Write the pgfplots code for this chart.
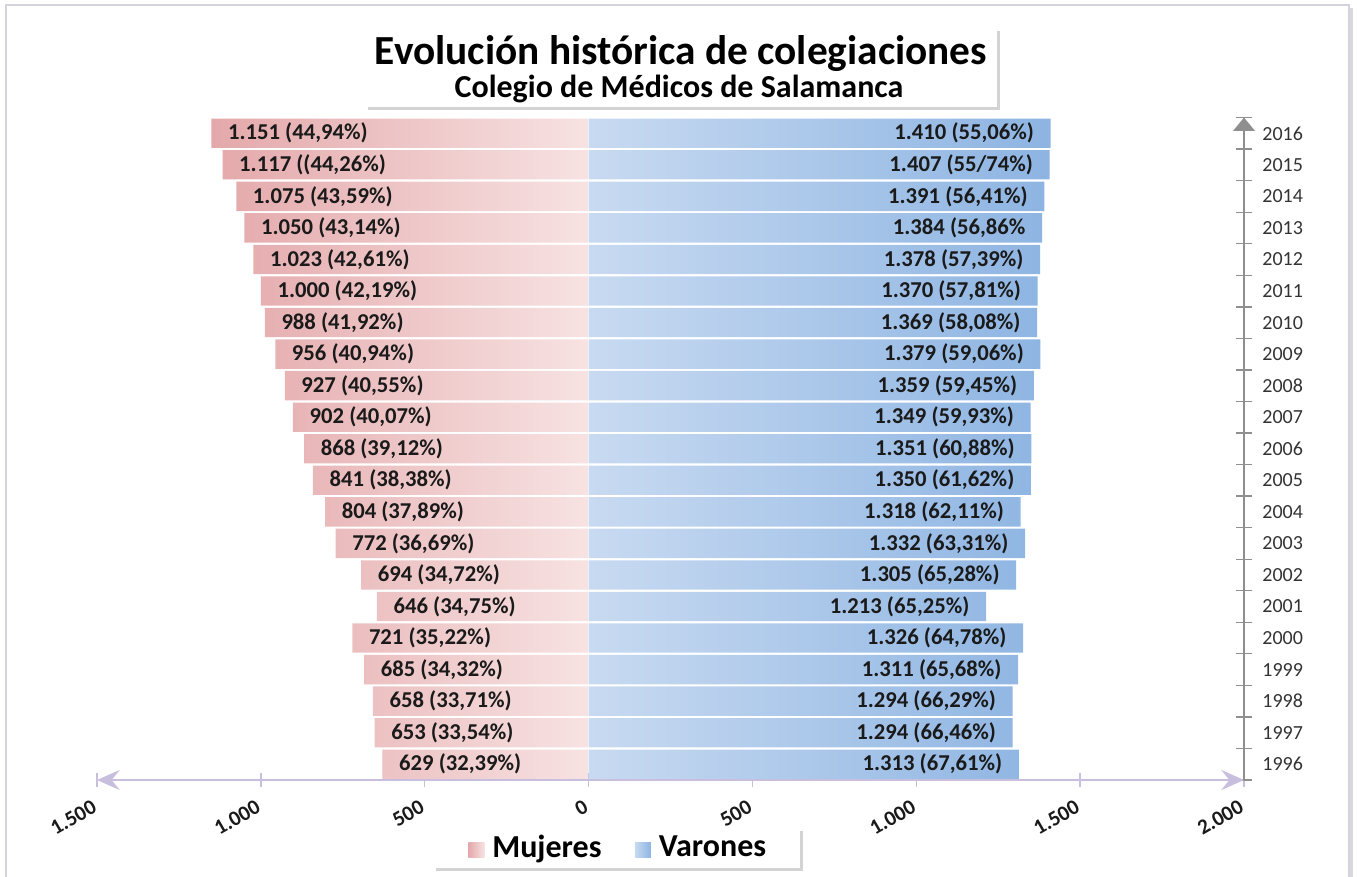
\documentclass[border=0pt]{standalone}
\usepackage{pgfplots}
\pgfplotsset{compat=1.18}
\usepackage{fontspec}
\setmainfont{Carlito}
\usetikzlibrary{arrows.meta,shadows}
\definecolor{pinkD}{RGB}{228,168,170}
\definecolor{pinkL}{RGB}{247,226,226}
\definecolor{blueL}{RGB}{200,218,241}
\definecolor{blueD}{RGB}{141,180,226}
\definecolor{lav}{RGB}{200,190,222}
\definecolor{axgray}{RGB}{143,143,143}
\definecolor{txt}{RGB}{26,26,26}
\definecolor{framec}{RGB}{214,210,222}
\begin{document}
\begin{tikzpicture}
\useasboundingbox (0,0) rectangle (1017.75pt,657pt);
\draw[framec, line width=1.5pt] (4.5pt,-5pt) -- (4.5pt,653.25pt) -- (1011.75pt,653.25pt) -- (1011.75pt,-5pt);
\draw[black!15, line width=2pt] (1013.5pt,-5pt) -- (1013.5pt,651pt);
% title box
\fill[white, drop shadow={shadow xshift=2.5pt, shadow yshift=-2.5pt, opacity=0.35}] (273.75pt,576.75pt) rectangle (747.75pt,636pt);
\node[anchor=base, font=\fontsize{31}{36}\selectfont\bfseries, text=black] at (510.75pt,608.25pt) {Evolución histórica de colegiaciones};
\node[anchor=base, font=\fontsize{24}{28}\selectfont\bfseries, text=black] at (509.25pt,583.5pt) {Colegio de Médicos de Salamanca};
% legend box
\fill[white, drop shadow={shadow xshift=2.5pt, shadow yshift=-2.5pt, opacity=0.35}] (324.75pt,6pt) rectangle (600pt,36pt);
\begin{axis}[
  at={(72.75pt,72pt)}, anchor=south west,
  scale only axis, width=860.25pt, height=496.875pt,
  xmin=-1500, xmax=2000, ymin=1995.5, ymax=2016.5,
  xbar, bar shift=0pt, bar width=0.93,
  axis x line*=bottom, axis y line*=right,
  x axis line style={draw=lav, line width=1.5pt, {Stealth[length=17pt,width=15pt,inset=6pt]}-{Stealth[length=17pt,width=15pt,inset=6pt]}},
  y axis line style={draw=axgray, line width=1.5pt, -{Triangle[length=10pt,width=16pt]}},
  xtick={-1500,-1000,...,2000},
  xticklabels={1.500,1.000,500,0,500,1.000,1.500,2.000},
  xtick align=center,
  x tick style={draw=lav, line width=1pt},
  major tick length=10.5pt,
  ytick={1996,...,2016},
  minor ytick={1995.5,1996.5,...,2016.5},
  ytick align=center,
  minor tick length=12.5pt,
  every major y tick/.append style={draw=none},
  every minor y tick/.append style={draw=axgray, line width=1pt},
  /pgf/number format/assume math mode=true,
  xticklabel style={rotate=30, anchor=east, yshift=-11pt, xshift=-5pt, font=\fontsize{16}{19}\selectfont\bfseries, text=txt},
  yticklabel style={font=\fontsize{15}{18}\selectfont, text=black!80, xshift=5pt, /pgf/number format/1000 sep={}},
  legend style={at={(0.4547,-0.074)}, anchor=north, fill=none, draw=none,
    legend columns=2, font=\fontsize{24}{28}\selectfont\bfseries,
    nodes={inner xsep=2pt, inner ysep=2pt},
    /tikz/every odd column/.append style={column sep=4pt},
    /tikz/every even column/.append style={column sep=23pt},
    inner xsep=2pt, inner ysep=2pt},
]
\addplot[xbar, draw=none, left color=pinkD, right color=pinkL,
  point meta=explicit symbolic, nodes near coords,
  every node near coord/.append style={anchor=west, xshift=9pt, font=\fontsize{17}{20}\selectfont\bfseries, text=txt},
  legend image code/.code={\path[left color=pinkD, right color=pinkL] (0pt,-8pt) rectangle (12pt,3pt);}]
coordinates {
(-1151,2016) [1.151 (44,94\%)]
(-1117,2015) [1.117 ((44,26\%)]
(-1075,2014) [1.075 (43,59\%)]
(-1050,2013) [1.050 (43,14\%)]
(-1023,2012) [1.023 (42,61\%)]
(-1000,2011) [1.000 (42,19\%)]
(-988,2010) [988 (41,92\%)]
(-956,2009) [956 (40,94\%)]
(-927,2008) [927 (40,55\%)]
(-902,2007) [902 (40,07\%)]
(-868,2006) [868 (39,12\%)]
(-841,2005) [841 (38,38\%)]
(-804,2004) [804 (37,89\%)]
(-772,2003) [772 (36,69\%)]
(-694,2002) [694 (34,72\%)]
(-646,2001) [646 (34,75\%)]
(-721,2000) [721 (35,22\%)]
(-685,1999) [685 (34,32\%)]
(-658,1998) [658 (33,71\%)]
(-653,1997) [653 (33,54\%)]
(-629,1996) [629 (32,39\%)]
};
\addlegendentry{Mujeres}
\addplot[xbar, draw=none, left color=blueL, right color=blueD,
  point meta=explicit symbolic, nodes near coords,
  every node near coord/.append style={anchor=east, xshift=-9pt, font=\fontsize{17}{20}\selectfont\bfseries, text=txt},
  legend image code/.code={\path[left color=blueL, right color=blueD] (0pt,-8pt) rectangle (12pt,3pt);}]
coordinates {
(1410,2016) [1.410 (55,06\%)]
(1407,2015) [1.407 (55/74\%)]
(1391,2014) [1.391 (56,41\%)]
(1384,2013) [1.384 (56,86\%]
(1378,2012) [1.378 (57,39\%)]
(1370,2011) [1.370 (57,81\%)]
(1369,2010) [1.369 (58,08\%)]
(1379,2009) [1.379 (59,06\%)]
(1359,2008) [1.359 (59,45\%)]
(1349,2007) [1.349 (59,93\%)]
(1351,2006) [1.351 (60,88\%)]
(1350,2005) [1.350 (61,62\%)]
(1318,2004) [1.318 (62,11\%)]
(1332,2003) [1.332 (63,31\%)]
(1305,2002) [1.305 (65,28\%)]
(1213,2001) [1.213 (65,25\%)]
(1326,2000) [1.326 (64,78\%)]
(1311,1999) [1.311 (65,68\%)]
(1294,1998) [1.294 (66,29\%)]
(1294,1997) [1.294 (66,46\%)]
(1313,1996) [1.313 (67,61\%)]
};
\addlegendentry{Varones}
\end{axis}
\end{tikzpicture}
\end{document}
